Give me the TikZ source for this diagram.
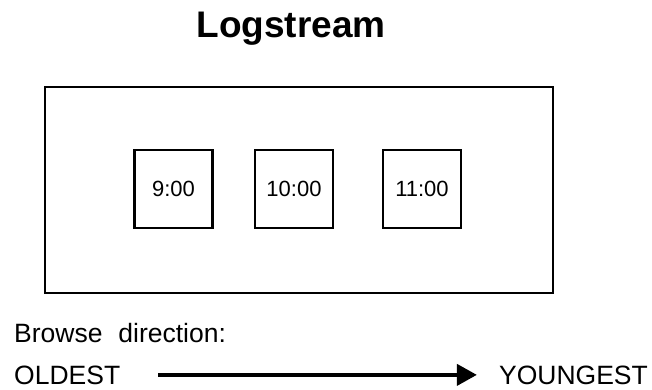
\documentclass[tikz,border=0pt]{standalone}
\usepackage{fontspec}
\setmainfont{Liberation Sans}
\usetikzlibrary{arrows.meta}
\tikzset{
  tbox/.style={draw,line width=2.5pt,minimum size=78pt,inner sep=0pt,font=\fontsize{22}{26}\selectfont},
  lbl/.style={inner sep=0pt,font=\fontsize{26.5}{30}\selectfont},
}
\begin{document}
\begin{tikzpicture}[x=1pt,y=-1pt]
\useasboundingbox (0,0) rectangle (652,390);
\node[anchor=base,inner sep=0pt,font=\bfseries\fontsize{37}{44}\selectfont] (title) at (291,38) {Logstream};

\node[draw,line width=2pt,minimum width=508pt,minimum height=206pt] (stream) at (299,190) {};
\node[tbox] (t9) at (173.5,189) {9:00};
\node[tbox] (t10) at (294,189) {10:00};
\node[tbox] (t11) at (422,189) {11:00};

\node[lbl,anchor=base west] (browse) at (14,342) {Browse\hspace{0.6em}direction:};
\node[lbl,anchor=base west] (old) at (14,384) {OLDEST};
\node[lbl,anchor=base east] (young) at (648,384) {YOUNGEST};
\draw[line width=4pt,-{Triangle[length=20pt,width=21pt]},shorten <=38pt,shorten >=22pt] (old.east) -- (young.west);
\end{tikzpicture}
\end{document}
